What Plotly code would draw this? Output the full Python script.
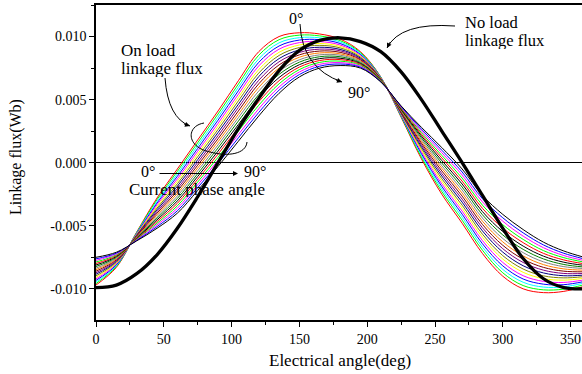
import plotly.graph_objects as go

# ---------------- data (flux values read in units of 1e-4 Wb) ----------------
SCALE = 1e-4
electrical_angle = [0, 15, 30, 45, 60, 75, 90, 105, 120, 135, 150, 165, 180,
                    195, 210, 225, 240, 255, 270, 285, 300, 315, 330, 345, 360]

no_load_flux = [-99, -97, -88, -73, -52, -27, 0, 27, 51, 73, 89, 97, 99,
                96, 88, 72, 50, 25, 0, -26, -52, -76, -92, -99, -100]

flux_p00 = [-97, -83, -55, -28, -5, 18, 41, 65, 88, 100, 103, 102, 98, 88, 68, 36, 3, -25, -48, -72, -90, -100, -103, -102, -98]
flux_p05 = [-95.8, -82.3, -55.4, -29.3, -6.9, 15.8, 38.6, 62.3, 85.2, 97.5, 101.1, 100.5, 96.8, 87.3, 67.8, 36.5, 4.4, -22.9, -45.6, -69.4, -87.3, -97.4, -100.8, -100.2, -96.7]
flux_p10 = [-94.6, -81.7, -55.8, -30.7, -8.9, 13.6, 36.1, 59.7, 82.3, 95, 99.1, 99, 95.7, 86.6, 67.6, 37, 5.8, -20.9, -43.2, -66.9, -84.6, -94.8, -98.6, -98.4, -95.4]
flux_p15 = [-93.3, -81.0, -56.2, -32.0, -10.8, 11.3, 33.7, 57.0, 79.5, 92.5, 97.2, 97.5, 94.5, 85.8, 67.3, 37.5, 7.2, -18.8, -40.8, -64.3, -81.8, -92.2, -96.3, -96.7, -94.2]
flux_p20 = [-92.1, -80.3, -56.6, -33.3, -12.8, 9.1, 31.2, 54.3, 76.7, 90, 95.2, 96, 93.3, 85.1, 67.1, 38, 8.6, -16.8, -38.4, -61.8, -79.1, -89.6, -94.1, -94.9, -92.9]
flux_p25 = [-90.9, -79.7, -56.9, -34.7, -14.7, 6.9, 28.8, 51.7, 73.8, 87.5, 93.3, 94.5, 92.2, 84.4, 66.9, 38.5, 9.9, -14.7, -36.1, -59.2, -76.4, -86.9, -91.9, -93.1, -91.6]
flux_p30 = [-89.7, -79.0, -57.3, -36.0, -16.7, 4.7, 26.3, 49.0, 71.0, 85, 91.3, 93, 91.0, 83.7, 66.7, 39, 11.3, -12.7, -33.7, -56.7, -73.7, -84.3, -89.7, -91.3, -90.3]
flux_p35 = [-88.4, -78.3, -57.7, -37.3, -18.6, 2.4, 23.9, 46.3, 68.2, 82.5, 89.4, 91.5, 89.8, 82.9, 66.4, 39.5, 12.7, -10.6, -31.3, -54.1, -70.9, -81.7, -87.4, -89.6, -89.1]
flux_p40 = [-87.2, -77.7, -58.1, -38.7, -20.6, 0.2, 21.4, 43.7, 65.3, 80, 87.4, 90, 88.7, 82.2, 66.2, 40, 14.1, -8.6, -28.9, -51.6, -68.2, -79.1, -85.2, -87.8, -87.8]
flux_p45 = [-86.0, -77.0, -58.5, -40.0, -22.5, -2.0, 19.0, 41.0, 62.5, 77.5, 85.5, 88.5, 87.5, 81.5, 66.0, 40.5, 15.5, -6.5, -26.5, -49.0, -65.5, -76.5, -83.0, -86.0, -86.5]
flux_p50 = [-84.8, -76.3, -58.9, -41.3, -24.4, -4.2, 16.6, 38.3, 59.7, 75, 83.6, 87, 86.3, 80.8, 65.8, 41, 16.9, -4.4, -24.1, -46.4, -62.8, -73.9, -80.8, -84.2, -85.2]
flux_p55 = [-83.6, -75.7, -59.3, -42.7, -26.4, -6.4, 14.1, 35.7, 56.8, 72.5, 81.6, 85.5, 85.2, 80.1, 65.6, 41.5, 18.3, -2.4, -21.7, -43.9, -60.1, -71.3, -78.6, -82.4, -83.9]
flux_p60 = [-82.3, -75.0, -59.7, -44.0, -28.3, -8.7, 11.7, 33.0, 54.0, 70, 79.7, 84, 84.0, 79.3, 65.3, 42, 19.7, -0.3, -19.3, -41.3, -57.3, -68.7, -76.3, -80.7, -82.7]
flux_p65 = [-81.1, -74.3, -60.1, -45.3, -30.3, -10.9, 9.2, 30.3, 51.2, 67.5, 77.7, 82.5, 82.8, 78.6, 65.1, 42.5, 21.1, 1.7, -16.9, -38.8, -54.6, -66.1, -74.1, -78.9, -81.4]
flux_p70 = [-79.9, -73.7, -60.4, -46.7, -32.2, -13.1, 6.8, 27.7, 48.3, 65, 75.8, 81, 81.7, 77.9, 64.9, 43, 22.4, 3.8, -14.6, -36.2, -51.9, -63.4, -71.9, -77.1, -80.1]
flux_p75 = [-78.7, -73.0, -60.8, -48.0, -34.2, -15.3, 4.3, 25.0, 45.5, 62.5, 73.8, 79.5, 80.5, 77.2, 64.7, 43.5, 23.8, 5.8, -12.2, -33.7, -49.2, -60.8, -69.7, -75.3, -78.8]
flux_p80 = [-77.4, -72.3, -61.2, -49.3, -36.1, -17.6, 1.9, 22.3, 42.7, 60, 71.9, 78, 79.3, 76.4, 64.4, 44, 25.2, 7.9, -9.8, -31.1, -46.4, -58.2, -67.4, -73.6, -77.6]
flux_p85 = [-76.2, -71.7, -61.6, -50.7, -38.1, -19.8, -0.6, 19.7, 39.8, 57.5, 69.9, 76.5, 78.2, 75.7, 64.2, 44.5, 26.6, 9.9, -7.4, -28.6, -43.7, -55.6, -65.2, -71.8, -76.3]
flux_p90 = [-75, -71, -62, -52, -40, -22, -3, 17, 37, 55, 68, 75, 77, 75, 64, 45, 28, 12, -5, -26, -41, -53, -63, -70, -75]

on_load_series = [flux_p00, flux_p05, flux_p10, flux_p15, flux_p20, flux_p25, flux_p30,
                  flux_p35, flux_p40, flux_p45, flux_p50, flux_p55, flux_p60, flux_p65,
                  flux_p70, flux_p75, flux_p80, flux_p85, flux_p90]
phase_angles = [0, 5, 10, 15, 20, 25, 30, 35, 40, 45, 50, 55, 60, 65, 70, 75, 80, 85, 90]

series_colors = ["#FF0000", "#00FF00", "#00FFFF", "#0000FF", "#FF00FF", "#FFFF00",
                 "#808000", "#000080", "#800080", "#800000", "#FF8000", "#808080",
                 "#008000", "#000000", "#FF0000", "#00FF00", "#FF00FF", "#0000FF",
                 "#000000"]

x_tick_vals = [0, 50, 100, 150, 200, 250, 300, 350]
x_tick_text = ["0", "50", "100", "150", "200", "250", "300", "350"]
y_tick_vals = [-0.010, -0.005, 0.0, 0.005, 0.010]
y_tick_text = ["-0.010", "-0.005", "0.000", "0.005", "0.010"]

# ---------------- layout geometry ----------------
W, H = 582, 374
ML, MR, MT, MB = 96, 0, 5, 54
PW, PH = W - ML - MR, H - MT - MB
XR = [0, 358.4]
YR = [-0.01247, 0.0125]
FONT = "Liberation Serif, Times New Roman, serif"


def dx(px):
    return XR[0] + (px - ML) / PW * (XR[1] - XR[0])


def dy(py):
    return YR[1] - (py - MT) / PH * (YR[1] - YR[0])


def P(px, py):
    return f"{dx(px):.5f},{dy(py):.7f}"


fig = go.Figure()

for vals, col, ph in zip(on_load_series, series_colors, phase_angles):
    fig.add_trace(go.Scatter(
        x=electrical_angle, y=[v * SCALE for v in vals], mode="lines",
        line=dict(color=col, width=1, shape="spline", smoothing=1.0),
        name=f"{ph}°", showlegend=False, hoverinfo="skip"))

fig.add_trace(go.Scatter(
    x=electrical_angle, y=[v * SCALE for v in no_load_flux], mode="lines",
    line=dict(color="black", width=3.3, shape="spline", smoothing=1.0),
    name="No load", showlegend=False, hoverinfo="skip"))

shapes = [
    dict(type="path", path=f"M {P(165,78)} Q {P(168,118)} {P(190,126)}",
         xref="x", yref="y", line=dict(color="black", width=1)),
    dict(type="path",
         path=f"M {P(204,123)} C {P(186,126)} {P(186,147)} {P(210,152)} C {P(228,157)} {P(246,154)} {P(247,142)}",
         xref="x", yref="y", line=dict(color="black", width=1)),
    dict(type="path", path=f"M {P(455,26)} Q {P(400,22)} {P(387,48)}",
         xref="x", yref="y", line=dict(color="black", width=1)),
    dict(type="path", path=f"M {P(300,24)} Q {P(302,68)} {P(342,82)}",
         xref="x", yref="y", line=dict(color="black", width=1)),
]

ann = []


def text(px, py, s, anchor="center", size=17, h=None):
    a = dict(x=dx(px), y=dy(py), xref="x", yref="y", text=s, showarrow=False,
             xanchor=anchor, yanchor="middle",
             font=dict(family=FONT, size=size, color="black"))
    if h is not None:
        a["height"] = h
        a["valign"] = "middle"
    ann.append(a)


def ptext(px, py, s, size=17, angle=0):
    ann.append(dict(x=(px - ML) / PW, y=(H - MB - py) / PH, xref="paper", yref="paper",
                    text=s, showarrow=False, xanchor="center", yanchor="middle",
                    textangle=angle, font=dict(family=FONT, size=size, color="black")))


def head(px, py, ox, oy):
    ann.append(dict(x=dx(px), y=dy(py), xref="x", yref="y", text="", showarrow=True,
                    ax=ox, ay=oy, arrowhead=2, arrowsize=1, arrowwidth=1,
                    arrowcolor="black", standoff=0))


text(119, 49.5, "On load", anchor="left", h=18)
text(119, 67.5, "linkage flux", anchor="left", h=18)
text(463, 22, "No load", anchor="left", size=16.5, h=17)
text(463, 40, "linkage flux", anchor="left", size=16.5, h=17)
text(296, 18, "0°", size=16, h=17)
text(359, 92, "90°", size=16, h=17)
text(148, 171.5, "0°", size=16, h=15)
text(255, 171.5, "90°", size=16, h=15)
text(196.5, 189, "Current phase angle", h=16)

head(190, 126, -7.6, -2.6)
head(387, 48, 3.6, -7.2)
head(342, 82, -7.6, -2.6)
head(238, 173.5, -80, 0)

# axis titles
ptext(340, 360, "Electrical angle(deg)", size=17)
ptext(16, 157, "Linkage flux(Wb)", size=16, angle=-90)

fig.update_layout(
    width=W, height=H, margin=dict(l=ML, r=MR, t=MT, b=MB, pad=0),
    paper_bgcolor="white", plot_bgcolor="white", showlegend=False,
    shapes=shapes, annotations=ann,
    font=dict(family=FONT, size=14, color="black"),
)
fig.update_xaxes(
    range=XR, showgrid=False, zeroline=False, showline=True, linecolor="black",
    linewidth=1.5, mirror=True, ticks="outside", ticklen=5, tickwidth=1.2,
    tickcolor="black", tickvals=x_tick_vals, ticktext=x_tick_text,
    tickfont=dict(family=FONT, size=14, color="black"),
    minor=dict(dtick=25, ticks="outside", ticklen=3, tickcolor="black", tickwidth=1),
)
fig.update_yaxes(
    range=YR, showgrid=False, zeroline=True, zerolinecolor="black", zerolinewidth=1.2,
    showline=True, linecolor="black", linewidth=1.5, mirror=False,
    ticks="outside", ticklen=5, tickwidth=1.2, tickcolor="black",
    tickvals=y_tick_vals, ticktext=y_tick_text,
    tickfont=dict(family=FONT, size=14, color="black"),
    minor=dict(dtick=0.0025, tick0=0, ticks="outside", ticklen=3, tickcolor="black", tickwidth=1),
)

fig.write_html("out.html")
